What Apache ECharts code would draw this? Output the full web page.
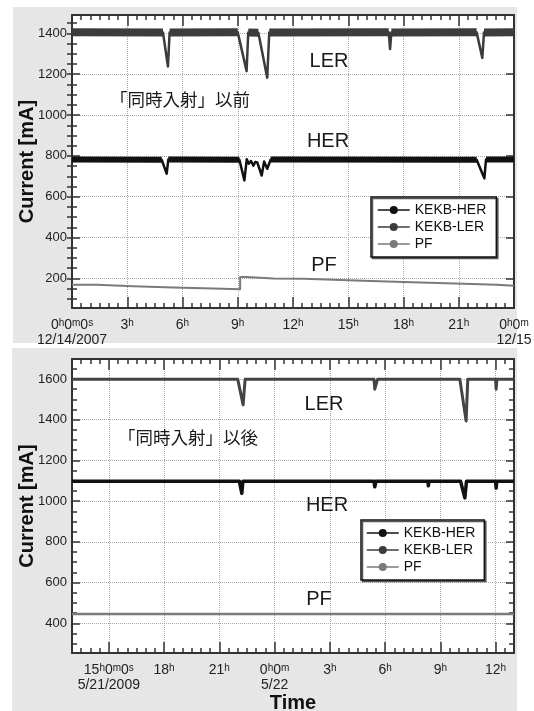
<!DOCTYPE html>
<html>
<head>
<meta charset="utf-8">
<script src="https://cdn.jsdelivr.net/npm/echarts@6/dist/echarts.min.js"></script>
<style>
  html, body { margin: 0; padding: 0; background: #fff; }
  #chart { width: 534px; height: 711px; }
</style>
</head>
<body>
<div id="chart"></div>
<script>
// x values are hours counted from 0:00 of the first day, y values in mA

// upper panel: 12/14/2007 (before simultaneous injection)
const topLER = [
  [0, 1405], [4.94, 1404], [5.21, 1238], [5.3, 1404], [9.0, 1405], [9.48, 1215], [9.57, 1404],
  [10.12, 1403], [10.6, 1183], [10.71, 1404], [17.2, 1405], [17.27, 1323], [17.34, 1404],
  [21.97, 1405], [22.28, 1280], [22.37, 1404], [24, 1405]
]
const topHER = [
  [0, 782], [4.87, 781], [5.14, 713], [5.23, 782], [9.09, 781], [9.36, 680], [9.49, 784],
  [9.6, 762], [9.72, 775], [9.85, 752], [9.95, 770], [10.06, 768], [10.3, 704], [10.43, 772],
  [10.6, 737], [10.79, 782], [21.97, 781], [22.39, 690], [22.48, 782], [24, 782]
]
const topPF = [
  [0, 169], [1.34, 161], [3.33, 156], [5.5, 151], [7.67, 147], [9.13, 207], [9.49, 200],
  [10.93, 198], [12.56, 189], [15.82, 182], [18.0, 174], [21.25, 169], [23.06, 164], [24, 164]
]

// lower panel: 5/21/2009 - 5/22 (after simultaneous injection)
const botLER = [
  [13, 1598], [14.07, 1598], [14.1, 1590], [14.13, 1598], [15.3, 1598], [15.33, 1591], [15.36, 1598],
  [17.55, 1598], [17.6, 1589], [17.65, 1598], [21.83, 1598], [21.86, 1590], [21.9, 1598],
  [22.0, 1598], [22.29, 1473], [22.4, 1598], [29.4, 1598], [29.44, 1550], [29.59, 1598],
  [31.2, 1598], [31.23, 1592], [31.26, 1598], [34.06, 1598], [34.4, 1394], [34.49, 1598],
  [36.0, 1598], [36.03, 1550], [36.07, 1598], [37, 1598]
]
const botHER = [
  [13, 1097], [17.25, 1097], [17.28, 1091], [17.31, 1097], [17.6, 1097], [17.63, 1091], [17.66, 1097],
  [22.09, 1097], [22.22, 1038], [22.28, 1097], [29.4, 1097], [29.44, 1070], [29.5, 1097],
  [32.33, 1097], [32.35, 1075], [32.38, 1097], [34.1, 1097], [34.33, 1016], [34.42, 1097],
  [36.0, 1097], [36.03, 1064], [36.06, 1097], [37, 1097]
]
const botPF = [[13, 446], [34.35, 446], [34.37, 440], [34.4, 446], [37, 446]]

// tick labels
const topHours = [0, 3, 6, 9, 12, 15, 18, 21, 24]
const topHourText = ['0h0m0s', '3h', '6h', '9h', '12h', '15h', '18h', '21h', '0h0m']
const topDateText = ['12/14/2007', '', '', '', '', '', '', '', '12/15']
const botHours = [15, 18, 21, 24, 27, 30, 33, 36]
const botHourText = ['15h0m0s', '18h', '21h', '0h0m', '3h', '6h', '9h', '12h']
const botDateText = ['5/21/2009', '', '', '5/22', '', '', '', '']
const topYTicks = [200, 400, 600, 800, 1000, 1200, 1400]
const botYTicks = [400, 600, 800, 1000, 1200, 1400, 1600]

const legendNames = ['KEKB-HER', 'KEKB-LER', 'PF']

const FONT = '"Liberation Sans", Arial, sans-serif'
const CJK = '"Noto Sans CJK JP", sans-serif'
const ink = '#333'
const colHER = '#111'
const colLER = '#3c3c3c'
const colPF = '#7a7a7a'

function steps(a, b, d) {
  const out = []
  for (let v = a; v <= b + 1e-9; v += d) out.push(+v.toFixed(3))
  return out
}

function timeLabel(hours, hourText, dateText) {
  return v => {
    const i = hours.indexOf(v)
    if (i < 0) return ''
    let s = hourText[i].replace(/(\d+)([hms])/g, '{n|$1}{s|$2}')
    if (dateText[i]) s += '\n{d|' + dateText[i] + '}'
    return s
  }
}

// ROOT style frame: main + minor tick axes on both sides, ticks inside
function frameAxes(dim, gridIndex, min, max, major, minor, label, name) {
  const sides = dim === 'x' ? ['bottom', 'top'] : ['left', 'right']
  const majLen = dim === 'x' ? 11 : 8
  const axes = []
  sides.forEach((pos, i) => {
    const main = i === 0
    const ax = {
      type: 'value', gridIndex, position: pos, min, max,
      axisLine: { show: true, onZero: false, lineStyle: { color: ink, width: 2 } },
      axisTick: { show: true, inside: true, length: majLen, customValues: major, lineStyle: { color: ink, width: 1.5 } },
      axisLabel: main ? label : { show: false },
      splitLine: { show: main, lineStyle: { color: '#aaa', type: 'dotted', width: 1 } }
    }
    if (main && name) Object.assign(ax, name)
    axes.push(ax)
    axes.push({
      type: 'value', gridIndex, position: pos, min, max,
      axisLine: { show: false },
      axisTick: { show: true, inside: true, length: 5, customValues: minor, lineStyle: { color: ink, width: 1.5 } },
      axisLabel: { show: false },
      splitLine: { show: false }
    })
  })
  return axes
}

const xRich = {
  n: { fontSize: 14, lineHeight: 15, color: '#222', fontFamily: FONT },
  s: { fontSize: 10, lineHeight: 10, color: '#222', fontFamily: FONT, verticalAlign: 'top' },
  d: { fontSize: 14, lineHeight: 15, color: '#222', fontFamily: FONT }
}
const xLabel = (hours, hText, dText) => ({
  show: true, customValues: hours, margin: 10, formatter: timeLabel(hours, hText, dText), rich: xRich
})
const yLabel = ticks => ({
  show: true, customValues: ticks, margin: 5, fontSize: 13, color: '#222', fontFamily: FONT,
  formatter: v => String(v)
})
const boldName = { fontSize: 20, fontWeight: 'bold', color: '#111', fontFamily: FONT }
const yName = {
  name: 'Current [mA]', nameLocation: 'middle', nameGap: 35, nameMoveOverlap: false, nameTextStyle: boldName
}

const xAxis = [
  ...frameAxes('x', 0, 0, 24, topHours, steps(0.5, 23.5, 0.5), xLabel(topHours, topHourText, topDateText)),
  ...frameAxes('x', 1, 13, 37, botHours, steps(13.5, 36.5, 0.5), xLabel(botHours, botHourText, botDateText),
    { name: 'Time', nameLocation: 'middle', nameGap: 40, nameMoveOverlap: false, nameTextStyle: boldName })
]
const yAxis = [
  ...frameAxes('y', 0, 55, 1490, topYTicks, steps(100, 1450, 50), yLabel(topYTicks), yName),
  ...frameAxes('y', 1, 254, 1698, botYTicks, steps(300, 1650, 50), yLabel(botYTicks), yName)
]

// thick noisy band while injecting (values near the top level)
const band = (data, floor) => data.map(p => (p[1] >= floor ? p : [p[0], '-']))

function line(name, data, xi, color, width, extra) {
  return Object.assign({
    name, type: 'line', data, xAxisIndex: xi, yAxisIndex: xi,
    symbol: 'circle', showSymbol: false, silent: true, animation: false,
    lineStyle: { color, width, join: 'round' }, itemStyle: { color }
  }, extra || {})
}

const series = [
  line('LER band', band(topLER, 1395), 0, colLER, 8),
  line('KEKB-LER', topLER, 0, colLER, 2.5),
  line('HER band', band(topHER, 778), 0, colHER, 6),
  line('KEKB-HER', topHER, 0, colHER, 2.5),
  line('PF', topPF, 0, colPF, 2, { step: 'end' }),
  line('KEKB-LER', botLER, 4, '#444', 3),
  line('KEKB-HER', botHER, 4, colHER, 3.5),
  line('PF', botPF, 4, colPF, 2.5)
]

const legendBox = (left, top, padding) => ({
  data: legendNames, orient: 'vertical', left, top, padding, itemGap: 3,
  itemWidth: 32, itemHeight: 10, selectedMode: false,
  textStyle: { fontSize: 14, lineHeight: 14, color: '#111', fontFamily: FONT },
  lineStyle: { width: 1.5 },
  backgroundColor: '#fff', borderColor: '#111', borderWidth: 1.5, borderRadius: 0,
  shadowColor: '#555', shadowOffsetX: 1.5, shadowOffsetY: 1.5, shadowBlur: 0
})

const note = (text, x, y, size, family) => ({
  type: 'text', x, y, z: 50, silent: true,
  style: { text, fill: '#1a1a1a', font: size + 'px ' + family, textAlign: 'center', textVerticalAlign: 'middle' }
})

const option = {
  backgroundColor: '#fff',
  animation: false,
  grid: [
    { left: 72, right: 20, top: 15, height: 293, outerBoundsMode: 'none', show: true, backgroundColor: '#fff', borderWidth: 0 },
    { left: 72, right: 20, top: 359, height: 294, outerBoundsMode: 'none', show: true, backgroundColor: '#fff', borderWidth: 0 }
  ],
  xAxis, yAxis, series,
  legend: [legendBox(371, 197, [6, 10, 6, 6]), legendBox(361, 520, [6, 9, 6, 5])],
  graphic: [
    { type: 'rect', z: -10, silent: true, shape: { x: 13, y: 7, width: 504, height: 336 }, style: { fill: '#e6e6e6' } },
    { type: 'rect', z: -10, silent: true, shape: { x: 12, y: 348, width: 505, height: 363 }, style: { fill: '#e6e6e6' } },
    note('LER', 329, 61, 20, FONT),
    note('HER', 328, 141, 20, FONT),
    note('PF', 324, 265, 20, FONT),
    note('「同時入射」以前', 180, 99, 17.5, CJK),
    note('LER', 324, 404, 20, FONT),
    note('HER', 327, 505, 20, FONT),
    note('PF', 319, 599, 20, FONT),
    note('「同時入射」以後', 188, 437, 17.5, CJK)
  ]
}

const chart = echarts.init(document.getElementById('chart'))
chart.setOption(option)
</script>
</body>
</html>
